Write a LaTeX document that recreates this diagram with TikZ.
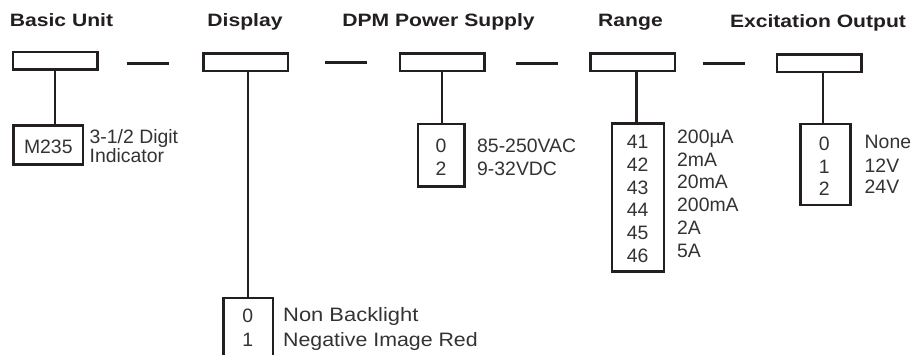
\documentclass[tikz,border=0pt]{standalone}
\usepackage{fontspec}
\setmainfont{Liberation Sans}
\usepackage{graphicx}
\definecolor{linecol}{HTML}{231F20}
\definecolor{txtcol}{HTML}{333333}
\begin{document}
\begin{tikzpicture}[x=1pt,y=-1pt,
  topbox/.style={draw=linecol, line width=2.5pt, minimum width=84.5pt, minimum height=17.5pt, inner sep=0pt},
  subbox/.style={draw=linecol, line width=2.5pt, inner sep=0pt},
  title/.style={font=\fontsize{17.9}{20}\selectfont\bfseries, text=linecol, inner sep=0pt, text height=12.8pt, text depth=0pt},
  num/.style={font=\fontsize{19.4}{22}\selectfont, text=txtcol, inner sep=0pt, text height=13.9pt, text depth=0pt},
  lab/.style={num, anchor=west},
  conn/.style={draw=linecol, line width=2.5pt}]
\clip (0,0) rectangle (911,354);
% titles
\node[title] (h1) at (61.5,20.3) {\scalebox{1.18}[1]{Basic Unit}};
\node[title] (h2) at (245,20.5) {\scalebox{1.18}[1]{Display}};
\node[title] (h3) at (438.5,20.5) {\scalebox{1.18}[1]{DPM Power Supply}};
\node[title] (h4) at (630.5,20.5) {\scalebox{1.18}[1]{Range}};
\node[title] (h5) at (818,20.7) {\scalebox{1.18}[1]{Excitation Output}};
% top boxes
\node[topbox] (t1) at (55,60.7) {};
\node[topbox] (t2) at (245.5,62.3) {};
\node[topbox] (t3) at (442.2,62.3) {};
\node[topbox] (t4) at (632.5,62.3) {};
\node[topbox] (t5) at (819,63.3) {};
% dashes
\coordinate (d1a) at (126.7,63.3); \coordinate (d1b) at (169,63.3);
\coordinate (d2a) at (325,62.7);   \coordinate (d2b) at (366.7,62.7);
\coordinate (d3a) at (516,63.5);   \coordinate (d3b) at (557.7,63.5);
\coordinate (d4a) at (703.3,63.3); \coordinate (d4b) at (745,63.3);
\draw[conn] (d1a) -- (d1b);
\draw[conn] (d2a) -- (d2b);
\draw[conn] (d3a) -- (d3b);
\draw[conn] (d4a) -- (d4b);
% sub boxes
\node[subbox, minimum width=69.5pt, minimum height=39pt] (s1) at (48,145) {};
\node[subbox, minimum width=49.5pt, minimum height=100pt] (s2) at (248,348.2) {};
\node[subbox, minimum width=46.5pt, minimum height=62.5pt] (s3) at (441.2,155.2) {};
\node[subbox, minimum width=51.8pt, minimum height=147.9pt] (s4) at (637.9,197.5) {};
\node[subbox, minimum width=50.2pt, minimum height=80.8pt] (s5) at (825.4,164.4) {};
% connectors
\draw[conn] (t1.south) -- (t1.south |- s1.north);
\draw[conn] (s2.north) -- (s2.north |- t2.south);
\draw[conn] (t3.south) -- (t3.south |- s3.north);
\draw[conn] ([xshift=-1.2pt]s4.north) -- ([xshift=-1.2pt]s4.north |- t4.south);
\draw[conn] ([xshift=-2.4pt]s5.north) -- ([xshift=-2.4pt]s5.north |- t5.south);
% basic unit
\node[num] (m1) at (48.3,146.7) {M235};
\node[font=\fontsize{19.4}{16.9}\selectfont, text=txtcol, inner sep=0pt, align=left, anchor=north west] (l1) at (89.5,129.2) {3-1/2 Digit\\Indicator};
% display
\node[num] (n2a) at (247.7,316) {0};
\node[num] (n2b) at (247.7,339.3) {1};
\node[lab] (l2a) at (283,314.5) {\scalebox{1.13}[1]{Non Backlight}};
\node[lab] (l2b) at (283,340) {\scalebox{1.1}[1]{Negative Image Red}};
% dpm power supply
\node[num] (n3a) at (441,145.8) {0};
\node[num] (n3b) at (441,168.3) {2};
\node[lab] (l3a) at (477,145.8) {85-250VAC};
\node[lab] (l3b) at (477,168.3) {9-32VDC};
% range
\node[num] (n4a) at (637.7,141.7) {41};
\node[num] (n4b) at (637.7,164.2) {42};
\node[num] (n4c) at (637.7,187.2) {43};
\node[num] (n4d) at (637.7,209.7) {44};
\node[num] (n4e) at (637.7,232.5) {45};
\node[num] (n4f) at (637.7,255.5) {46};
\node[lab] (l4a) at (677,137) {200µA};
\node[lab] (l4b) at (677,159.7) {2mA};
\node[lab] (l4c) at (677,182) {20mA};
\node[lab] (l4d) at (677,205) {200mA};
\node[lab] (l4e) at (677,227.5) {2A};
\node[lab] (l4f) at (677,250.3) {5A};
% excitation output
\node[num] (n5a) at (824.3,143.3) {0};
\node[num] (n5b) at (824.3,166.3) {1};
\node[num] (n5c) at (824.3,188.3) {2};
\node[lab] (l5a) at (864.5,141.7) {None};
\node[lab] (l5b) at (864.5,166) {12V};
\node[lab] (l5c) at (864.5,186.7) {24V};
\end{tikzpicture}
\end{document}
